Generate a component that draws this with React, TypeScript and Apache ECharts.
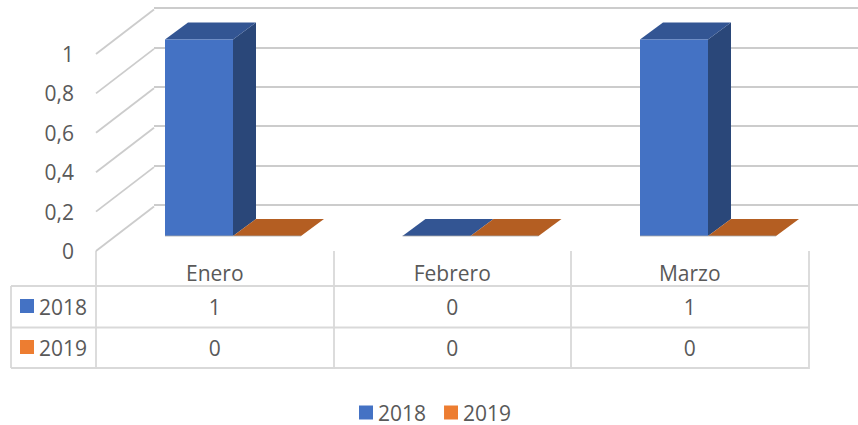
import React, { useEffect, useRef } from "react";
import * as echarts from "echarts";

const categories = ["Enero", "Febrero", "Marzo"];
const series2018 = [1, 0, 1];
const series2019 = [0, 0, 0];
const seriesNames = ["2018", "2019"];
const valueTicks = [0, 0.2, 0.4, 0.6, 0.8, 1];

const FONT = '"Open Sans", "Noto Sans", sans-serif';
const TEXT = "#595959";
const GRID = "#cccccc";
const TABLE = "#d9d9d9";
const FS = 21;

const WALL_DX = 58;
const WALL_DY = 44.5;
const BAR_DX = 23;
const BAR_DY = 17;
const BAR_FRACTION = 68 / 237.5;

function barRender(side: -1 | 1, front: string, top: string, right: string) {
  return (params: any, api: any) => {
    const p = api.coord([api.value(0), api.value(1)]);
    const base = api.coord([api.value(0), 0]);
    const w = api.size([1, 0])[0] * BAR_FRACTION;
    const x0 = side < 0 ? p[0] - w : p[0];
    const x1 = x0 + w;
    const yT = p[1];
    const yB = base[1];
    return {
      type: "group",
      children: [
        {
          type: "polygon",
          shape: { points: [[x1, yB], [x1 + BAR_DX, yB - BAR_DY], [x1 + BAR_DX, yT - BAR_DY], [x1, yT]] },
          style: { fill: right },
        },
        {
          type: "polygon",
          shape: { points: [[x0, yT], [x1, yT], [x1 + BAR_DX, yT - BAR_DY], [x0 + BAR_DX, yT - BAR_DY]] },
          style: { fill: top },
        },
        { type: "rect", shape: { x: x0, y: yT, width: w, height: yB - yT }, style: { fill: front } },
        { type: "line", shape: { x1: x0, y1: yB, x2: x1, y2: yB }, style: { stroke: "#a9a9a9", lineWidth: 0.8 } },
      ],
    };
  };
}

function sideLineRender(params: any, api: any) {
  const y = api.coord([0, api.value(1)])[1];
  const x = params.coordSys.x;
  return {
    type: "line",
    shape: { x1: x, y1: y, x2: x + WALL_DX, y2: y - WALL_DY },
    style: { stroke: GRID, lineWidth: 1.8 },
  };
}

function rowAxis(values: number[], offset: number) {
  return {
    type: "category" as const,
    gridIndex: 0,
    position: "bottom" as const,
    offset,
    data: values.map(String),
    axisLine: { show: false },
    axisTick: { show: false },
    splitLine: { show: false },
    axisLabel: { color: TEXT, fontFamily: FONT, fontSize: FS, margin: 12 },
  };
}

function hiddenCat(gridIndex: number) {
  return {
    type: "category" as const,
    gridIndex,
    data: categories,
    axisLine: { show: false },
    axisTick: { show: false },
    axisLabel: { show: false },
    splitLine: { show: false },
  };
}

function tableLine(x1: number, y1: number, x2: number, y2: number) {
  return { type: "line", silent: true, shape: { x1, y1, x2, y2 }, style: { stroke: TABLE, lineWidth: 1.8 } };
}

export default function App() {
  const ref = useRef<HTMLDivElement>(null);
  useEffect(() => {
    const chart = echarts.init(ref.current!, undefined, { renderer: "svg" });
    chart.setOption({
      animation: false,
      backgroundColor: "#ffffff",
      grid: [
        { left: 96, right: 49.5, top: 54, bottom: 174, containLabel: false },
        { left: 154, right: 0, top: 8, bottom: 220, containLabel: false },
        { left: 114.25, right: 31.25, top: 39.5, bottom: 189, containLabel: false },
      ],
      xAxis: [
        {
          type: "category",
          gridIndex: 0,
          data: categories,
          axisLine: { show: false },
          axisTick: { show: true, length: 118, lineStyle: { color: TABLE, width: 1.8 } },
          splitLine: { show: false },
          axisLabel: { color: TEXT, fontFamily: FONT, fontSize: FS, margin: 11 },
        },
        hiddenCat(1),
        hiddenCat(2),
        rowAxis(series2018, 33),
        rowAxis(series2019, 74),
      ],
      yAxis: [
        {
          type: "value",
          gridIndex: 0,
          min: 0,
          max: 1,
          interval: 0.2,
          axisLine: { show: false },
          axisTick: { show: false },
          splitLine: { show: false },
          axisLabel: {
            color: TEXT,
            fontFamily: FONT,
            fontSize: FS,
            margin: 22,
            formatter: (v: number) => String(v).replace(".", ","),
          },
        },
        {
          type: "value",
          gridIndex: 1,
          min: 0,
          max: 1,
          interval: 0.2,
          axisLine: { show: false },
          axisTick: { show: false },
          axisLabel: { show: false },
          splitLine: { show: true, lineStyle: { color: GRID, width: 1.8 } },
        },
        {
          type: "value",
          gridIndex: 2,
          min: 0,
          max: 1,
          interval: 0.2,
          axisLine: { show: false },
          axisTick: { show: false },
          axisLabel: { show: false },
          splitLine: { show: false },
        },
      ],
      legend: {
        left: 354,
        top: 402,
        padding: [0, 5, 0, 5],
        data: seriesNames,
        icon: "rect",
        itemWidth: 14,
        itemHeight: 14,
        itemGap: 18,
        textStyle: { color: TEXT, fontFamily: FONT, fontSize: FS, lineHeight: 21 },
      },
      series: [
        {
          type: "custom",
          name: "walls",
          xAxisIndex: 0,
          yAxisIndex: 0,
          silent: true,
          clip: false,
          z: 1,
          renderItem: sideLineRender,
          data: valueTicks.map((v) => [0, v]),
          encode: { x: 0, y: 1 },
        },
        {
          type: "custom",
          name: seriesNames[0],
          xAxisIndex: 2,
          yAxisIndex: 2,
          silent: true,
          clip: false,
          z: 3,
          itemStyle: { color: "#4472c4" },
          renderItem: barRender(-1, "#4472c4", "#335593", "#2a4779"),
          data: series2018.map((v, i) => [i, v]),
          encode: { x: 0, y: 1 },
        },
        {
          type: "custom",
          name: seriesNames[1],
          xAxisIndex: 2,
          yAxisIndex: 2,
          silent: true,
          clip: false,
          z: 3,
          itemStyle: { color: "#ed7d31" },
          renderItem: barRender(1, "#ed7d31", "#b45e22", "#8f4a1a"),
          data: series2019.map((v, i) => [i, v]),
          encode: { x: 0, y: 1 },
        },
      ],
      graphic: [
        tableLine(11, 286, 809, 286),
        tableLine(11, 327.5, 809, 327.5),
        tableLine(11, 368, 809, 368),
        tableLine(11, 286, 11, 368),
        { type: "rect", silent: true, shape: { x: 20, y: 299, width: 14, height: 14 }, style: { fill: "#4472c4" } },
        { type: "rect", silent: true, shape: { x: 20, y: 340, width: 14, height: 14 }, style: { fill: "#ed7d31" } },
        {
          type: "text",
          silent: true,
          x: 39,
          y: 307,
          style: { text: seriesNames[0], fill: TEXT, font: `${FS}px ${FONT}`, verticalAlign: "middle" },
        },
        {
          type: "text",
          silent: true,
          x: 39,
          y: 348,
          style: { text: seriesNames[1], fill: TEXT, font: `${FS}px ${FONT}`, verticalAlign: "middle" },
        },
      ],
    });
    return () => chart.dispose();
  }, []);
  return <div ref={ref} style={{ position: "fixed", left: 0, top: 0, width: 858, height: 425 }} />;
}
